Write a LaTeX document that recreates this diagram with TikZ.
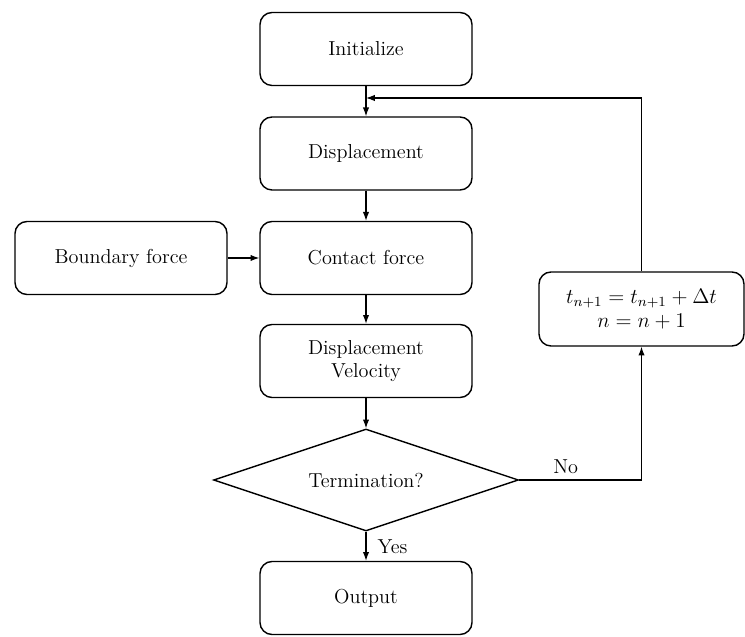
\documentclass[tikz,border=0pt]{standalone}
\usetikzlibrary{shapes.geometric,arrows.meta,positioning}

\tikzset{
  stepbox/.style={draw, line width=0.8pt, rounded corners=0.24cm, minimum width=4.24cm, minimum height=1.46cm, align=center, font=\fontsize{11.5}{13.5}\selectfont},
  decision/.style={draw, diamond, aspect=2.99, line width=0.8pt, inner sep=0pt, minimum width=6.1cm, minimum height=2.04cm, font=\fontsize{11.5}{13.5}\selectfont},
  flow/.style={line width=0.6pt, -{Latex[length=5pt,width=3.6pt]}},
  lbl/.style={font=\fontsize{11.5}{13.5}\selectfont}
}

\begin{document}
\begin{tikzpicture}

  \useasboundingbox (0,0) rectangle (14.9,12.74);

  \node[stepbox] (init) at (7.32,11.76) {Initialize};
  \node[stepbox] (disp) at (7.32,9.67) {Displacement};
  \node[stepbox] (contact) at (7.32,7.58) {Contact force};
  \node[stepbox] (bound) at (2.42,7.58) {Boundary force};
  \node[stepbox] (dispvel) at (7.32,5.52) {Displacement\\Velocity};
  \node[decision] (term) at (7.32,3.14) {Termination?};
  \node[stepbox] (out) at (7.32,0.78) {Output};
  \node[stepbox, minimum width=4.1cm, minimum height=1.48cm] (update) at (12.83,6.56) {$t_{n+1}=t_{n+1}+\Delta t$\\$n=n+1$};

  \coordinate (merge) at (7.32,10.78);

  \draw[flow] (init) -- (disp);
  \draw[flow] (disp) -- (contact);
  \draw[flow] (bound) -- (contact);
  \draw[flow] (contact) -- (dispvel);
  \draw[flow] (dispvel) -- (term);
  \draw[flow] (term) -- node[lbl, right=3pt] {Yes} (out);
  \draw[flow] (term.east) -- node[lbl, pos=0.38, above] {No} (term.east -| update.south) -- (update.south);
  \draw[flow] (update.north) |- (merge);

\end{tikzpicture}
\end{document}
